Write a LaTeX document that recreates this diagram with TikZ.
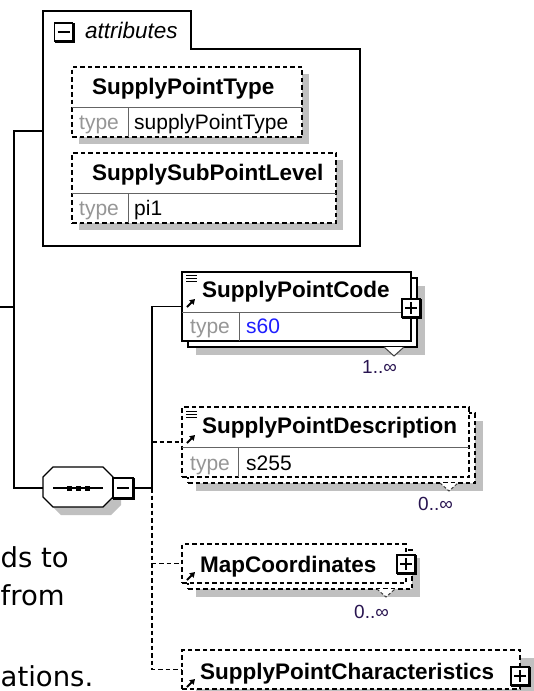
\documentclass[tikz,border=0pt]{standalone}
\usepackage{fontspec}
\setmainfont{Liberation Sans}
\newfontfamily\verdfont{DejaVu Sans}
\usetikzlibrary{arrows.meta}
\definecolor{shad}{RGB}{192,192,192}
\definecolor{typegray}{RGB}{150,150,150}
\definecolor{divgray}{RGB}{100,100,100}
\definecolor{occ}{RGB}{40,20,80}
\definecolor{lnk}{RGB}{30,30,255}
\tikzset{
  pbox/.style={draw, line width=1.1pt, fill=white, inner sep=0pt, outer sep=0pt, anchor=north west},
  obox/.style={pbox, dash pattern=on 4.5pt off 3pt},
  sbox/.style={fill=shad, draw=none, inner sep=0pt, outer sep=0pt, anchor=north west},
  nm/.style={font=\fontsize{22.5}{26}\selectfont\bfseries, anchor=base west, inner sep=0pt},
  tl/.style={font=\fontsize{21}{25}\selectfont, text=typegray, anchor=base west, inner sep=0pt},
  tv/.style={font=\fontsize{21}{25}\selectfont, anchor=base west, inner sep=0pt},
  oc/.style={font=\fontsize{19}{22}\selectfont, text=occ, anchor=base west, inner sep=0pt},
  conn/.style={line width=1.4pt},
  oconn/.style={line width=1.4pt, dash pattern=on 4.5pt off 3pt},
  divline/.style={line width=1pt, draw=divgray},
  bg/.style={font=\verdfont\fontsize{27.5}{38}\selectfont, anchor=base west, inner sep=0pt},
  xbox/.style={draw, line width=1.3pt, fill=white, minimum size=18pt, inner sep=0pt, outer sep=0pt},
  refarrow/.style={line width=1.8pt, -{Triangle[length=5pt,width=6pt]}},
  docline/.style={line width=1pt},
  vmark/.style={line width=1pt, draw=black!75},
}
\newcommand\plusmark[1]{%
  \draw[line width=1.4pt] ([xshift=-6pt]#1.center) -- ([xshift=6pt]#1.center)
       ([yshift=-6pt]#1.center) -- ([yshift=6pt]#1.center);
  \draw[line width=1.4pt] ([xshift=1.3pt]#1.north east) -- ([shift={(1.3pt,-1.3pt)}]#1.south east) -- ([yshift=-1.3pt]#1.south west);}
\newcommand\minusmark[1]{%
  \draw[line width=1.4pt] ([xshift=-6pt]#1.center) -- ([xshift=6pt]#1.center);
  \draw[line width=1.4pt] ([xshift=1.3pt]#1.north east) -- ([shift={(1.3pt,-1.3pt)}]#1.south east) -- ([yshift=-1.3pt]#1.south west);}
\begin{document}
\begin{tikzpicture}[x=1pt,y=-1pt]
\useasboundingbox (0,0) rectangle (534,691);
% background paragraph fragments
\node[bg] (t1) at (0.5,567) {ds to};
\node[bg] (t2) at (0.5,605) {from};
\node[bg] (t3) at (0.5,686) {ations.};

% attributes group
\draw[line width=1.4pt, fill=white] (43,11) -- (191,11) -- (191,49) -- (360,49) -- (360,246) -- (43,246) -- cycle;
\coordinate (attrW) at (43,131);
\node[xbox] (attrmin) at (63.5,32) {};
\minusmark{attrmin}
\node[anchor=base west, inner sep=0pt, font=\fontsize{22.5}{26}\selectfont\itshape] (attrlbl) at (85,38) {attributes};

% SupplyPointType
\node[sbox, minimum width=230pt, minimum height=70pt] (sptS) at (79,74) {};
\node[obox, minimum width=230pt, minimum height=70pt] (spt) at (72,67) {};
\draw[divline] (72,107) -- (302,107) (128,107) -- (128,137);
\node[nm] (sptN) at (92,94) {SupplyPointType};
\node[tl] (sptT) at (79,129) {type};
\node[tv] (sptV) at (134,129) {supplyPointType};

% SupplySubPointLevel
\node[sbox, minimum width=264pt, minimum height=70pt] (sslS) at (79,160) {};
\node[obox, minimum width=264pt, minimum height=70pt] (ssl) at (72,153) {};
\draw[divline] (72,193) -- (336,193) (128,193) -- (128,223);
\node[nm] (sslN) at (92,180) {SupplySubPointLevel};
\node[tl] (sslT) at (79,215) {type};
\node[tv] (sslV) at (134,215) {pi1};

% sequence compositor
\fill[shad] (61,475) -- (111,475) -- (121,485) -- (121,505) -- (111,515) -- (61,515) -- (51,505) -- (51,485) -- cycle;
\draw[conn, fill=white] (53,467) -- (103,467) -- (113,477) -- (113,497) -- (103,507) -- (53,507) -- (43,497) -- (43,477) -- cycle;
\coordinate (seqW) at (43,488);
\draw[line width=1.3pt] (53,488) -- (103,488);
\fill (66.5,485.5) rectangle (71.5,490.5);
\fill (75.5,485.5) rectangle (80.5,490.5);
\fill (84.5,485.5) rectangle (89.5,490.5);
\node[xbox, minimum size=20pt] (seqmin) at (123,488) {};
\minusmark{seqmin}

% SupplyPointCode
\node[sbox, minimum width=229pt, minimum height=69pt] (spcS) at (196,286) {};
\node[pbox, minimum width=229pt, minimum height=69pt] (spcB) at (188,278) {};
\node[pbox, minimum width=229pt, minimum height=69pt] (spc) at (182,272) {};
\draw[divline] (182,312) -- (411,312) (239,312) -- (239,341);
\node[nm] (spcN) at (202,297) {SupplyPointCode};
\node[tl] (spcT) at (190,333) {type};
\node[tv, text=lnk] (spcV) at (246,333) {s60};
\draw[docline] (186,275) -- (197,275) (186,278) -- (197,278) (186,281) -- (197,281);
\draw[refarrow] (187,307) -- (195,299);
\node[xbox] (spcX) at (411,308) {};
\plusmark{spcX}
\draw[vmark, fill=white] (384,347) -- (394,356) -- (404,347);
\node[oc] (spcO) at (362,373) {1..∞};

% SupplyPointDescription
\node[sbox, minimum width=287pt, minimum height=70pt] (spdS) at (196,421) {};
\node[obox, minimum width=287pt, minimum height=70pt] (spdB) at (188,413) {};
\node[obox, minimum width=287pt, minimum height=70pt] (spd) at (182,407) {};
\draw[divline] (182,447) -- (469,447) (238,447) -- (238,477);
\node[nm] (spdN) at (202,433) {SupplyPointDescription};
\node[tl] (spdT) at (190,470) {type};
\node[tv] (spdV) at (246,470) {s255};
\draw[docline] (186,411) -- (197,411) (186,414) -- (197,414) (186,417) -- (197,417);
\draw[refarrow] (187,443) -- (195,435);
\draw[vmark, fill=white, dash pattern=on 3pt off 2pt] (440,483) -- (449,491) -- (458,483);
\node[oc] (spdO) at (418,510) {0..∞};

% MapCoordinates
\node[sbox, minimum width=224pt, minimum height=39pt] (mapS) at (196,558) {};
\node[obox, minimum width=224pt, minimum height=39pt] (mapB) at (188,550) {};
\node[obox, minimum width=224pt, minimum height=39pt] (map) at (182,544) {};
\node[nm] (mapN) at (200,572) {MapCoordinates};
\draw[refarrow] (187,580) -- (195,572);
\node[xbox] (mapX) at (406,564) {};
\plusmark{mapX}
\draw[vmark, fill=white, dash pattern=on 3pt off 2pt] (377,589) -- (386,597) -- (395,589);
\node[oc] (mapO) at (354,618) {0..∞};

% SupplyPointCharacteristics
\node[sbox, minimum width=338pt, minimum height=39pt] (chrS) at (196,658) {};
\node[obox, minimum width=338pt, minimum height=39pt] (chr) at (182,650) {};
\node[nm] (chrN) at (200,679) {SupplyPointCharacteristics};
\draw[refarrow] (187,687) -- (195,679);
\node[xbox] (chrX) at (520,676) {};
\plusmark{chrX}

% connectors
\coordinate (p0) at (0,307);
\coordinate (b1) at (14,131);
\coordinate (b2) at (14,488);
\coordinate (bus) at (152,488);
\draw[conn] (p0) -- (p0 -| b1);
\draw[conn] (attrW) -- (b1) -- (b2) -- (seqW);
\draw[conn] (seqmin.east) -- (bus);
\draw[conn] (spc.west) -| (bus);
\draw[oconn] (spd.west -| bus) -- (spd.west);
\draw[oconn] (bus) |- (map.west);
\draw[oconn] (bus) |- (chr.west);
\end{tikzpicture}
\end{document}
